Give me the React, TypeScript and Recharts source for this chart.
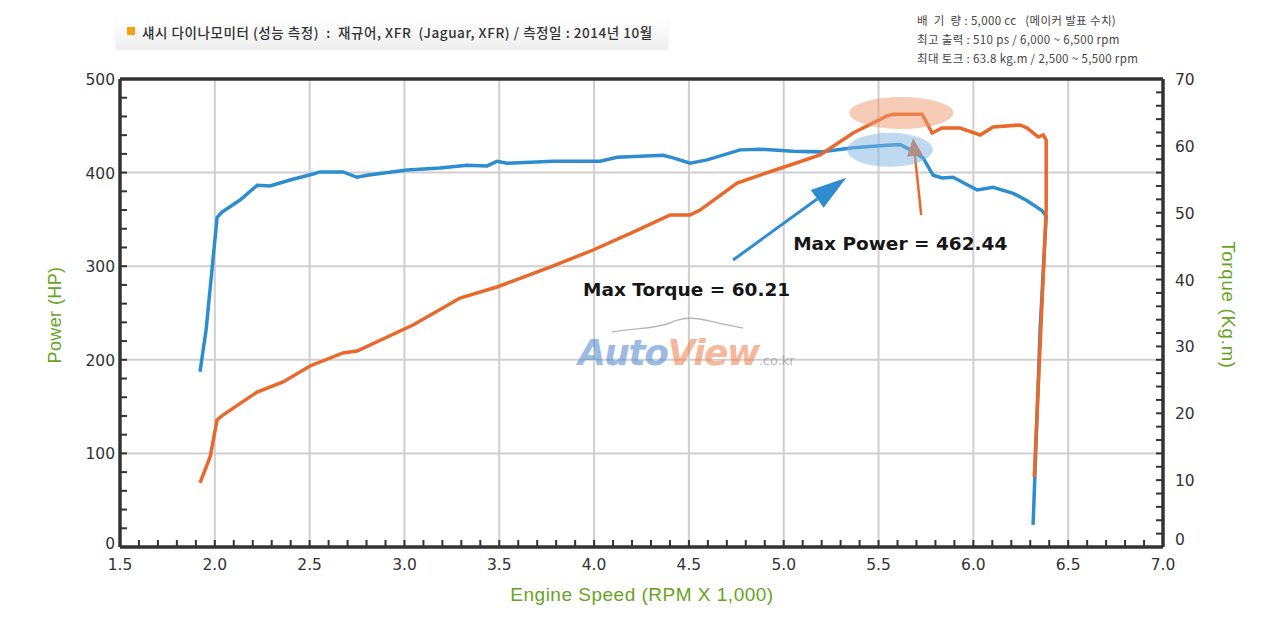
import React from 'react';
import { LineChart, Line, XAxis, YAxis, ReferenceLine, ReferenceDot } from 'recharts';

// torque curve (kg.m)
const TORQUE_RPM = [
  1.922, 1.954, 1.99, 2.012, 2.038, 2.133, 2.223, 2.291, 2.397, 2.518, 2.555, 2.676, 2.75, 2.803,
  3.014, 3.188, 3.33, 3.436, 3.488, 3.541, 3.784, 4.032, 4.121, 4.364, 4.417, 4.506, 4.596, 4.77,
  4.876, 5.05, 5.192, 5.366, 5.545, 5.614, 5.667, 5.735, 5.788, 5.835, 5.893, 6.02, 6.104, 6.21,
  6.284, 6.363, 6.384, 6.352, 6.315,
];
const TORQUE_KGM = [
  26.2, 32.5, 42.9, 49.3, 50.1, 51.9, 54.1, 54.0, 54.9, 55.8, 56.1, 56.1, 55.3, 55.6,
  56.4, 56.7, 57.1, 57.0, 57.7, 57.4, 57.7, 57.7, 58.3, 58.6, 58.2, 57.4, 57.9, 59.4,
  59.5, 59.2, 59.1, 59.7, 60.1, 60.21, 59.4, 58.2, 55.6, 55.2, 55.3, 53.4, 53.8, 52.9,
  51.8, 50.3, 49.5, 32.5, 3.3,
];

// power curve (HP)
const POWER_RPM = [
  1.922, 1.975, 2.012, 2.043, 2.223, 2.36, 2.502, 2.676, 2.75, 3.045, 3.293, 3.488, 3.768, 3.995,
  4.206, 4.401, 4.506, 4.559, 4.754, 4.876, 5.034, 5.192, 5.366, 5.545, 5.577, 5.73, 5.783, 5.835,
  5.93, 6.036, 6.104, 6.247, 6.284, 6.342, 6.368, 6.384, 6.384, 6.321,
];
const POWER_HP = [
  68.4, 96.2, 135.7, 141.0, 165.6, 176.3, 193.4, 207.3, 209.4, 237.2, 266.0, 277.8, 299.1, 317.3,
  336.5, 354.7, 354.7, 360.0, 388.9, 397.4, 408.1, 418.8, 442.3, 460.5, 462.44, 462.44, 442.3, 447.6,
  447.6, 440.2, 448.7, 450.9, 447.6, 438.0, 440.2, 434.8, 360.0, 74.8,
];

const GRID_RPM = [2.0, 2.5, 3.0, 3.5, 4.0, 4.5, 5.0, 5.5, 6.0, 6.5];
const GRID_HP = [100, 200, 300, 400];
const X_TICKS = Array.from({ length: 56 }, (_, i) => Math.round(15 + i) / 10);
const HP_TICKS = Array.from({ length: 26 }, (_, i) => i * 20);
const TQ_TICKS = Array.from({ length: 36 }, (_, i) => i * 2);

const ORANGE = '#e8692b';
const BLUE = '#2d8dcf';
const GREEN = '#67a424';
const AXIS = '#333';
const FONT = '"Liberation Sans", Arial, Helvetica, sans-serif';
const WIDE = '"DejaVu Sans", Verdana, sans-serif';
const KFONT = '"Noto Sans CJK KR", "Noto Sans", sans-serif';

const torqueData = TORQUE_RPM.map((rpm, i) => ({ rpm, tq: TORQUE_KGM[i] }));
const powerData = POWER_RPM.map((rpm, i) => ({ rpm, hp: POWER_HP[i] }));

const tickText = { fontFamily: WIDE, fontSize: 15.5, fill: '#333' };

const XTick = (p: any) => {
  const v = p.payload.value;
  const major = Math.round(v * 10) % 5 === 0;
  return (
    <g>
      <line x1={p.x} x2={p.x} y1={p.y} y2={p.y - 7} stroke={AXIS} strokeWidth={2} />
      {major && (
        <text x={p.x} y={p.y + 23} textAnchor="middle" {...tickText}>
          {v.toFixed(1)}
        </text>
      )}
    </g>
  );
};

const HpTick = (p: any) => {
  const v = p.payload.value;
  return (
    <g>
      <line x1={p.x} x2={p.x + 7} y1={p.y} y2={p.y} stroke={AXIS} strokeWidth={2} />
      {v % 100 === 0 && (
        <text x={p.x - 5} y={p.y + (v === 0 ? 2 : 6)} textAnchor="end" {...tickText}>
          {v}
        </text>
      )}
    </g>
  );
};

const TqTick = (p: any) => {
  const v = p.payload.value;
  return (
    <g>
      <line x1={p.x} x2={p.x - 7} y1={p.y} y2={p.y} stroke={AXIS} strokeWidth={2} />
      {v % 10 === 0 && (
        <text x={p.x + 12} y={p.y + (v === 0 ? -2 : 6)} textAnchor="start" {...tickText}>
          {v}
        </text>
      )}
    </g>
  );
};

const arrow = (color: string, width: number, head: number, half: number) => (p: any) => {
  const { x1, y1, x2, y2 } = p;
  const len = Math.hypot(x2 - x1, y2 - y1) || 1;
  const ux = (x2 - x1) / len;
  const uy = (y2 - y1) / len;
  const bx = x2 - ux * head;
  const by = y2 - uy * head;
  return (
    <g>
      <line x1={x1} y1={y1} x2={bx} y2={by} stroke={color} strokeWidth={width} />
      <polygon
        points={`${x2},${y2} ${bx - uy * half},${by + ux * half} ${bx + uy * half},${by - ux * half}`}
        fill={color}
      />
    </g>
  );
};

const ellipse = (fill: string, rx: number, ry: number) => (p: any) => (
  <ellipse cx={p.cx} cy={p.cy} rx={rx} ry={ry} fill={fill} fillOpacity={0.5} />
);

const note = (text: string) => (p: any) => (
  <text x={p.cx} y={p.cy} fontFamily={WIDE} fontSize={18.5} fontWeight={700} fill="#161616">
    {text}
  </text>
);

export default function App() {
  return (
    <div style={{ position: 'absolute', left: 0, top: 0, width: 1280, height: 621, background: '#fff', overflow: 'hidden' }}>
      {/* header */}
      <div
        style={{
          position: 'absolute', left: 116, top: 20, width: 552, height: 28,
          background: 'linear-gradient(#fff, #efefef)', boxShadow: '0 2px 3px rgba(0,0,0,0.08)',
        }}
      />
      <div style={{ position: 'absolute', left: 127, top: 27, width: 8, height: 8, background: '#f5a011' }} />
      <div style={{ position: 'absolute', left: 142, top: 22, fontFamily: KFONT, fontSize: 13.5, letterSpacing: 0.55, color: '#333', fontWeight: 500, whiteSpace: 'nowrap' }}>
        섀시 다이나모미터 (성능 측정)&nbsp; :&nbsp; 재규어, XFR&nbsp; (Jaguar, XFR) / 측정일 : 2014년 10월
      </div>
      <div style={{ position: 'absolute', left: 917, top: 11, fontFamily: KFONT, fontSize: 11.5, letterSpacing: 0.35, lineHeight: '19px', color: '#444', whiteSpace: 'pre' }}>
        <div>배&nbsp; 기&nbsp; 량 : 5,000 cc&nbsp;&nbsp; (메이커 발표 수치)</div>
        <div>최고 출력 : 510 ps / 6,000 ~ 6,500 rpm</div>
        <div>최대 토크 : 63.8 kg.m / 2,500 ~ 5,500 rpm</div>
      </div>

      <LineChart width={1280} height={621} margin={{ top: 79, right: 0, bottom: 0, left: 0 }}>
        <XAxis
          xAxisId="rpm"
          dataKey="rpm"
          type="number"
          domain={[1.5, 7]}
          ticks={X_TICKS}
          interval={0}
          height={74}
          tickSize={0}
          tickMargin={0}
          tickLine={false}
          tick={XTick}
          axisLine={false}
          allowDataOverflow
        />
        <YAxis
          yAxisId="hp"
          orientation="left"
          domain={[0, 500]}
          ticks={HP_TICKS}
          interval={0}
          width={120}
          tickSize={0}
          tickMargin={0}
          tickLine={false}
          tick={HpTick}
          axisLine={false}
        />
        <YAxis
          yAxisId="tq"
          orientation="right"
          domain={[0, 70]}
          ticks={TQ_TICKS}
          interval={0}
          width={117}
          tickSize={0}
          tickMargin={0}
          tickLine={false}
          tick={TqTick}
          axisLine={false}
        />

        {GRID_RPM.map((v) => (
          <ReferenceLine key={'gx' + v} xAxisId="rpm" yAxisId="hp" x={v} stroke="#cfcfcf" strokeWidth={2} />
        ))}
        {GRID_HP.map((v) => (
          <ReferenceLine key={'gy' + v} xAxisId="rpm" yAxisId="hp" y={v} stroke="#cfcfcf" strokeWidth={2} />
        ))}
        {/* plot frame */}
        <ReferenceLine xAxisId="rpm" yAxisId="hp" y={500} stroke={AXIS} strokeWidth={3.5} />
        <ReferenceLine xAxisId="rpm" yAxisId="hp" y={0} stroke={AXIS} strokeWidth={3.5} />
        <ReferenceLine xAxisId="rpm" yAxisId="hp" x={1.5} stroke={AXIS} strokeWidth={3.5} />
        <ReferenceLine xAxisId="rpm" yAxisId="hp" x={7} stroke={AXIS} strokeWidth={3.5} />

        <ReferenceDot xAxisId="rpm" yAxisId="hp" x={5.62} y={463.7} r={1} shape={ellipse('#f09a70', 52, 16)} />
        <ReferenceDot xAxisId="rpm" yAxisId="tq" x={5.56} y={59.4} r={1} shape={ellipse('#7fb6e2', 43, 17)} />

        <Line
          xAxisId="rpm"
          yAxisId="tq"
          data={torqueData}
          dataKey="tq"
          type="linear"
          stroke={BLUE}
          strokeWidth={3.5}
          dot={false}
          isAnimationActive={false}
        />
        <Line
          xAxisId="rpm"
          yAxisId="hp"
          data={powerData}
          dataKey="hp"
          type="linear"
          stroke={ORANGE}
          strokeWidth={3.5}
          dot={false}
          isAnimationActive={false}
        />

        <ReferenceLine
          xAxisId="rpm"
          yAxisId="hp"
          segment={[{ x: 4.733, y: 306.6 }, { x: 5.33, y: 394.5 }]}
          shape={arrow(BLUE, 3, 36, 11)}
        />
        <ReferenceLine
          xAxisId="rpm"
          yAxisId="hp"
          segment={[{ x: 5.725, y: 354.7 }, { x: 5.682, y: 437 }]}
          shape={arrow(ORANGE, 2.5, 18, 8)}
        />
        <ReferenceDot xAxisId="rpm" yAxisId="hp" x={3.942} y={268} r={1} shape={note('Max Torque = 60.21')} />
        <ReferenceDot xAxisId="rpm" yAxisId="hp" x={5.05} y={317} r={1} shape={note('Max Power = 462.44')} />
      </LineChart>

      {/* watermark */}
      <svg style={{ position: 'absolute', left: 610, top: 314 }} width={140} height={24}>
        <path d="M2 18 C25 14 45 15 60 9 C70 4 82 3 95 6 C108 9 120 12 133 14" stroke="#999" strokeWidth={1.4} fill="none" opacity={0.7} />
      </svg>
      <div style={{ position: 'absolute', left: 578, top: 332, opacity: 0.6, fontFamily: WIDE, fontStyle: 'italic', fontWeight: 700, whiteSpace: 'nowrap', letterSpacing: -1.5, lineHeight: '42px' }}>
        <span style={{ fontSize: 36, color: '#5b8fcf' }}>Auto</span>
        <span style={{ fontSize: 36, color: '#f0895a' }}>View</span>
        <span style={{ fontSize: 13, color: '#8a8a8a', fontStyle: 'normal', fontWeight: 400, letterSpacing: 0 }}>.co.kr</span>
      </div>

      {/* axis titles */}
      <div style={{ position: 'absolute', left: 55, top: 315, transform: 'translate(-50%, -50%) rotate(-90deg)', fontFamily: FONT, fontSize: 18, letterSpacing: 0.4, color: GREEN, whiteSpace: 'nowrap' }}>
        Power (HP)
      </div>
      <div style={{ position: 'absolute', left: 1228, top: 305, transform: 'translate(-50%, -50%) rotate(90deg)', fontFamily: FONT, fontSize: 18.5, letterSpacing: 0.8, color: GREEN, whiteSpace: 'nowrap' }}>
        Torque (Kg.m)
      </div>
      <div style={{ position: 'absolute', left: 642, top: 595, transform: 'translate(-50%, -50%)', fontFamily: FONT, fontSize: 19, letterSpacing: 0.5, color: GREEN, whiteSpace: 'nowrap' }}>
        Engine Speed (RPM X 1,000)
      </div>
    </div>
  );
}
